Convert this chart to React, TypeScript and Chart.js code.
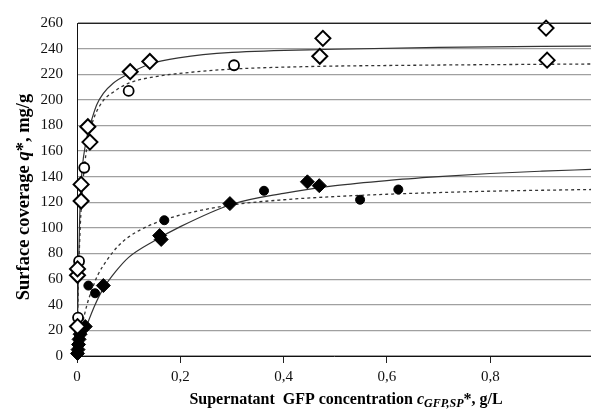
import React, { useEffect, useRef } from "react";
import { Chart, registerables } from "chart.js";

Chart.register(...registerables);

// ---- data ----
const openDiamondX = [0.001, 0.001, 0.001, 0.008, 0.008, 0.021, 0.025, 0.103, 0.141, 0.47, 0.476, 0.908, 0.91];
const openDiamondY = [23, 63, 68, 121, 134, 179, 167, 222, 230, 234, 248, 256, 231];

const openCircleX = [0.002, 0.004, 0.014, 0.1, 0.304];
const openCircleY = [30, 74, 147, 207, 227];

const filledDiamondX = [0.001, 0.002, 0.003, 0.004, 0.006, 0.016, 0.051, 0.16, 0.163, 0.296, 0.446, 0.469];
const filledDiamondY = [2, 5, 9, 13, 17, 23, 55, 94, 91, 119, 136, 133];

const filledCircleX = [0.001, 0.002, 0.003, 0.004, 0.005, 0.022, 0.035, 0.169, 0.362, 0.548, 0.622];
const filledCircleY = [3, 7, 11, 15, 19, 55, 49, 106, 129, 122, 130];

const upperSolidX = [0, 0.002, 0.005, 0.008, 0.011, 0.0155, 0.022, 0.028, 0.038, 0.051, 0.07, 0.103, 0.141, 0.2, 0.3, 0.5, 0.7, 0.995];
const upperSolidY = [0, 50, 105, 135, 150, 163, 176, 184, 196, 205, 213, 221, 228, 233, 237, 239.5, 241, 242];

const upperDashX = [0, 0.002, 0.005, 0.01, 0.015, 0.022, 0.032, 0.05, 0.07, 0.1, 0.15, 0.22, 0.3, 0.45, 0.65, 0.995];
const upperDashY = [0, 46, 88, 128, 150, 170, 185, 199, 206, 213, 218, 221.5, 224, 226, 227, 228];

const lowerSolidX = [0, 0.005, 0.01, 0.02, 0.035, 0.05, 0.075, 0.1, 0.15, 0.2, 0.3, 0.4, 0.5, 0.6, 0.7, 0.8, 0.9, 0.995];
const lowerSolidY = [0, 7, 14, 25, 40, 52, 66, 77, 90, 101, 118.5, 127, 133, 137, 140, 142.5, 144.3, 145.7];

const lowerDashX = [0, 0.005, 0.01, 0.02, 0.03, 0.04, 0.06, 0.08, 0.1, 0.13, 0.17, 0.22, 0.3, 0.4, 0.5, 0.6, 0.7, 0.8, 0.9, 0.995];
const lowerDashY = [0, 13, 24, 41, 53, 63, 76, 86, 93, 100, 106.5, 112, 118, 122, 124.5, 126.3, 127.6, 128.7, 129.4, 130];

const xTickValues = [0, 0.2, 0.4, 0.6, 0.8];
const xTickLabels = ["0", "0,2", "0,4", "0,6", "0,8"];
const yMin = 0;
const yMax = 260;
const yStep = 20;
const xMin = 0;
const xMax = 0.995;

const xTitleRuns = [
  { text: "Supernatant  GFP concentration ", style: "bold", size: 16, dy: 0 },
  { text: "c", style: "italic bold", size: 16, dy: 0 },
  { text: "GFP,SP", style: "italic bold", size: 12, dy: 4 },
  { text: "*, g/L", style: "bold", size: 16, dy: 0 },
];
const yTitleRuns = [
  { text: "Surface coverage ", style: "bold", size: 18.5, dy: 0 },
  { text: "q", style: "italic bold", size: 18.5, dy: 0 },
  { text: "*, mg/g", style: "bold", size: 18.5, dy: 0 },
];

const FONT = '"Liberation Serif", "DejaVu Serif", serif';

const pairs = (xs: number[], ys: number[]) => xs.map((x, i) => ({ x, y: ys[i] }));

function drawRuns(ctx: CanvasRenderingContext2D, runs: any[], cx: number, cy: number) {
  let total = 0;
  for (const r of runs) {
    ctx.font = `${r.style} ${r.size}px ${FONT}`;
    total += ctx.measureText(r.text).width;
  }
  let x = cx - total / 2;
  ctx.textBaseline = "middle";
  ctx.textAlign = "left";
  for (const r of runs) {
    ctx.font = `${r.style} ${r.size}px ${FONT}`;
    ctx.fillText(r.text, x, cy + r.dy);
    x += ctx.measureText(r.text).width;
  }
}

const decorPlugin = {
  id: "decor",
  afterDraw(chart: any) {
    const { ctx, chartArea } = chart;
    ctx.save();
    ctx.strokeStyle = "#222";
    ctx.lineWidth = 1;
    ctx.beginPath();
    ctx.moveTo(chartArea.left, chartArea.top + 0.5);
    ctx.lineTo(chartArea.right, chartArea.top + 0.5);
    ctx.stroke();
    ctx.fillStyle = "#000";
    drawRuns(ctx, xTitleRuns, 346, 400);
    ctx.translate(24, 197);
    ctx.rotate(-Math.PI / 2);
    drawRuns(ctx, yTitleRuns, 0, 0);
    ctx.restore();
  },
};

export default function App() {
  const ref = useRef<HTMLCanvasElement>(null);
  useEffect(() => {
    document.body.style.margin = "0";
    const lineBase = {
      showLine: true,
      pointRadius: 0,
      pointHoverRadius: 0,
      fill: false,
      cubicInterpolationMode: "monotone" as const,
      borderColor: "#333",
    };
    const chart = new Chart(ref.current!, {
      type: "scatter",
      data: {
        datasets: [
          {
            data: pairs(openDiamondX, openDiamondY),
            pointStyle: "rectRot",
            pointRadius: 7.5,
            borderWidth: 2,
            borderColor: "#000",
            backgroundColor: "#fff",
            clip: 12,
          },
          {
            data: pairs(openCircleX, openCircleY),
            pointStyle: "circle",
            pointRadius: 5,
            borderWidth: 1.8,
            borderColor: "#000",
            backgroundColor: "#fff",
            clip: 12,
          },
          {
            data: pairs(filledDiamondX, filledDiamondY),
            pointStyle: "rectRot",
            pointRadius: 7,
            borderWidth: 1,
            borderColor: "#000",
            backgroundColor: "#000",
            clip: 12,
          },
          {
            data: pairs(filledCircleX, filledCircleY),
            pointStyle: "circle",
            pointRadius: 4.5,
            borderWidth: 1,
            borderColor: "#000",
            backgroundColor: "#000",
            clip: 12,
          },
          { ...lineBase, data: pairs(upperSolidX, upperSolidY), borderWidth: 1.2 },
          { ...lineBase, data: pairs(upperDashX, upperDashY), borderWidth: 1.3, borderDash: [3, 3] },
          { ...lineBase, data: pairs(lowerSolidX, lowerSolidY), borderWidth: 1.2 },
          { ...lineBase, data: pairs(lowerDashX, lowerDashY), borderWidth: 1.3, borderDash: [3, 3] },
        ],
      },
      options: {
        animation: false,
        responsive: true,
        maintainAspectRatio: false,
        layout: { autoPadding: false, padding: { top: 22, right: 0, left: 0, bottom: 0 } },
        plugins: { legend: { display: false }, tooltip: { enabled: false } },
        scales: {
          x: {
            type: "linear",
            min: xMin,
            max: xMax,
            afterBuildTicks: (scale: any) => {
              scale.ticks = xTickValues.map((v) => ({ value: v }));
            },
            afterFit: (scale: any) => {
              scale.height = 56;
            },
            grid: {
              drawOnChartArea: false,
              drawTicks: true,
              tickLength: 7,
              tickColor: "#222",
            },
            border: { color: "#111", width: 1 },
            ticks: {
              padding: 5,
              color: "#111",
              font: { family: FONT, size: 15 },
              callback: (v: any) => {
                const i = xTickValues.indexOf(Number(v));
                return i >= 0 ? xTickLabels[i] : "";
              },
            },
          },
          y: {
            type: "linear",
            min: yMin,
            max: yMax,
            afterFit: (scale: any) => {
              scale.width = 77;
            },
            grid: {
              color: "#a0a0a0",
              lineWidth: 1.3,
              drawTicks: false,
            },
            border: { color: "#111", width: 1 },
            ticks: {
              stepSize: yStep,
              padding: 14,
              color: "#111",
              font: { family: FONT, size: 15 },
            },
          },
        },
      },
      plugins: [decorPlugin],
    });
    return () => chart.destroy();
  }, []);
  return (
    <div style={{ width: 591, height: 412, position: "relative" }}>
      <canvas ref={ref} />
    </div>
  );
}
